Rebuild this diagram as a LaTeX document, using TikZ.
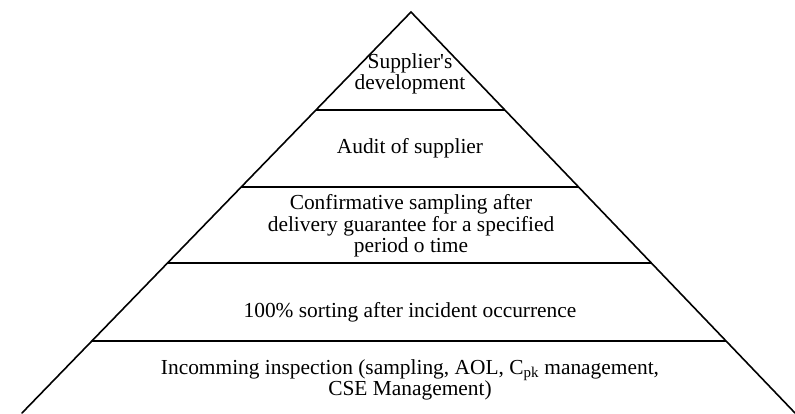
\documentclass[tikz,border=0pt]{standalone}
\usepackage{fontspec}
\setmainfont{Liberation Serif}
\usetikzlibrary{calc}
\begin{document}
\begin{tikzpicture}[x=1pt,y=-1pt,
  edge/.style={line width=1.6pt, line cap=round},
  lvl/.style={inner sep=0pt, align=center, font=\fontsize{21.4}{21.5}\selectfont}]
\useasboundingbox (0,0) rectangle (795,413);
\coordinate (apex) at (411,12);
\coordinate (bl) at (22,413);
\coordinate (br) at (795,413);
\draw[edge] (bl) -- (apex) -- (br);
% tier boundaries: t = (y-12)/401
\foreach \y/\n in {110/a,187/b,263/c,341/d}{
  \pgfmathsetmacro{\t}{(\y-12)/401}
  \coordinate (L\n) at ($(apex)!\t!(bl)$);
  \coordinate (R\n) at ($(apex)!\t!(br)$);
  \draw[edge, line cap=butt] (L\n) -- (R\n);
}
\node[lvl] (t1) at (410,74) {Supplier\textquotesingle s\\development};
\node[lvl] (t2) at (410,148) {Audit of supplier};
\node[lvl] (t3) at (411,226) {Confirmative sampling after\\delivery guarantee for a specified\\period o time};
\node[lvl] (t4) at (410,312) {100\% sorting after incident occurrence};
\node[lvl] (t5) at (410,380) {Incomming inspection (sampling, AOL, C\textsubscript{pk} management,\\CSE Management)};
\end{tikzpicture}
\end{document}
